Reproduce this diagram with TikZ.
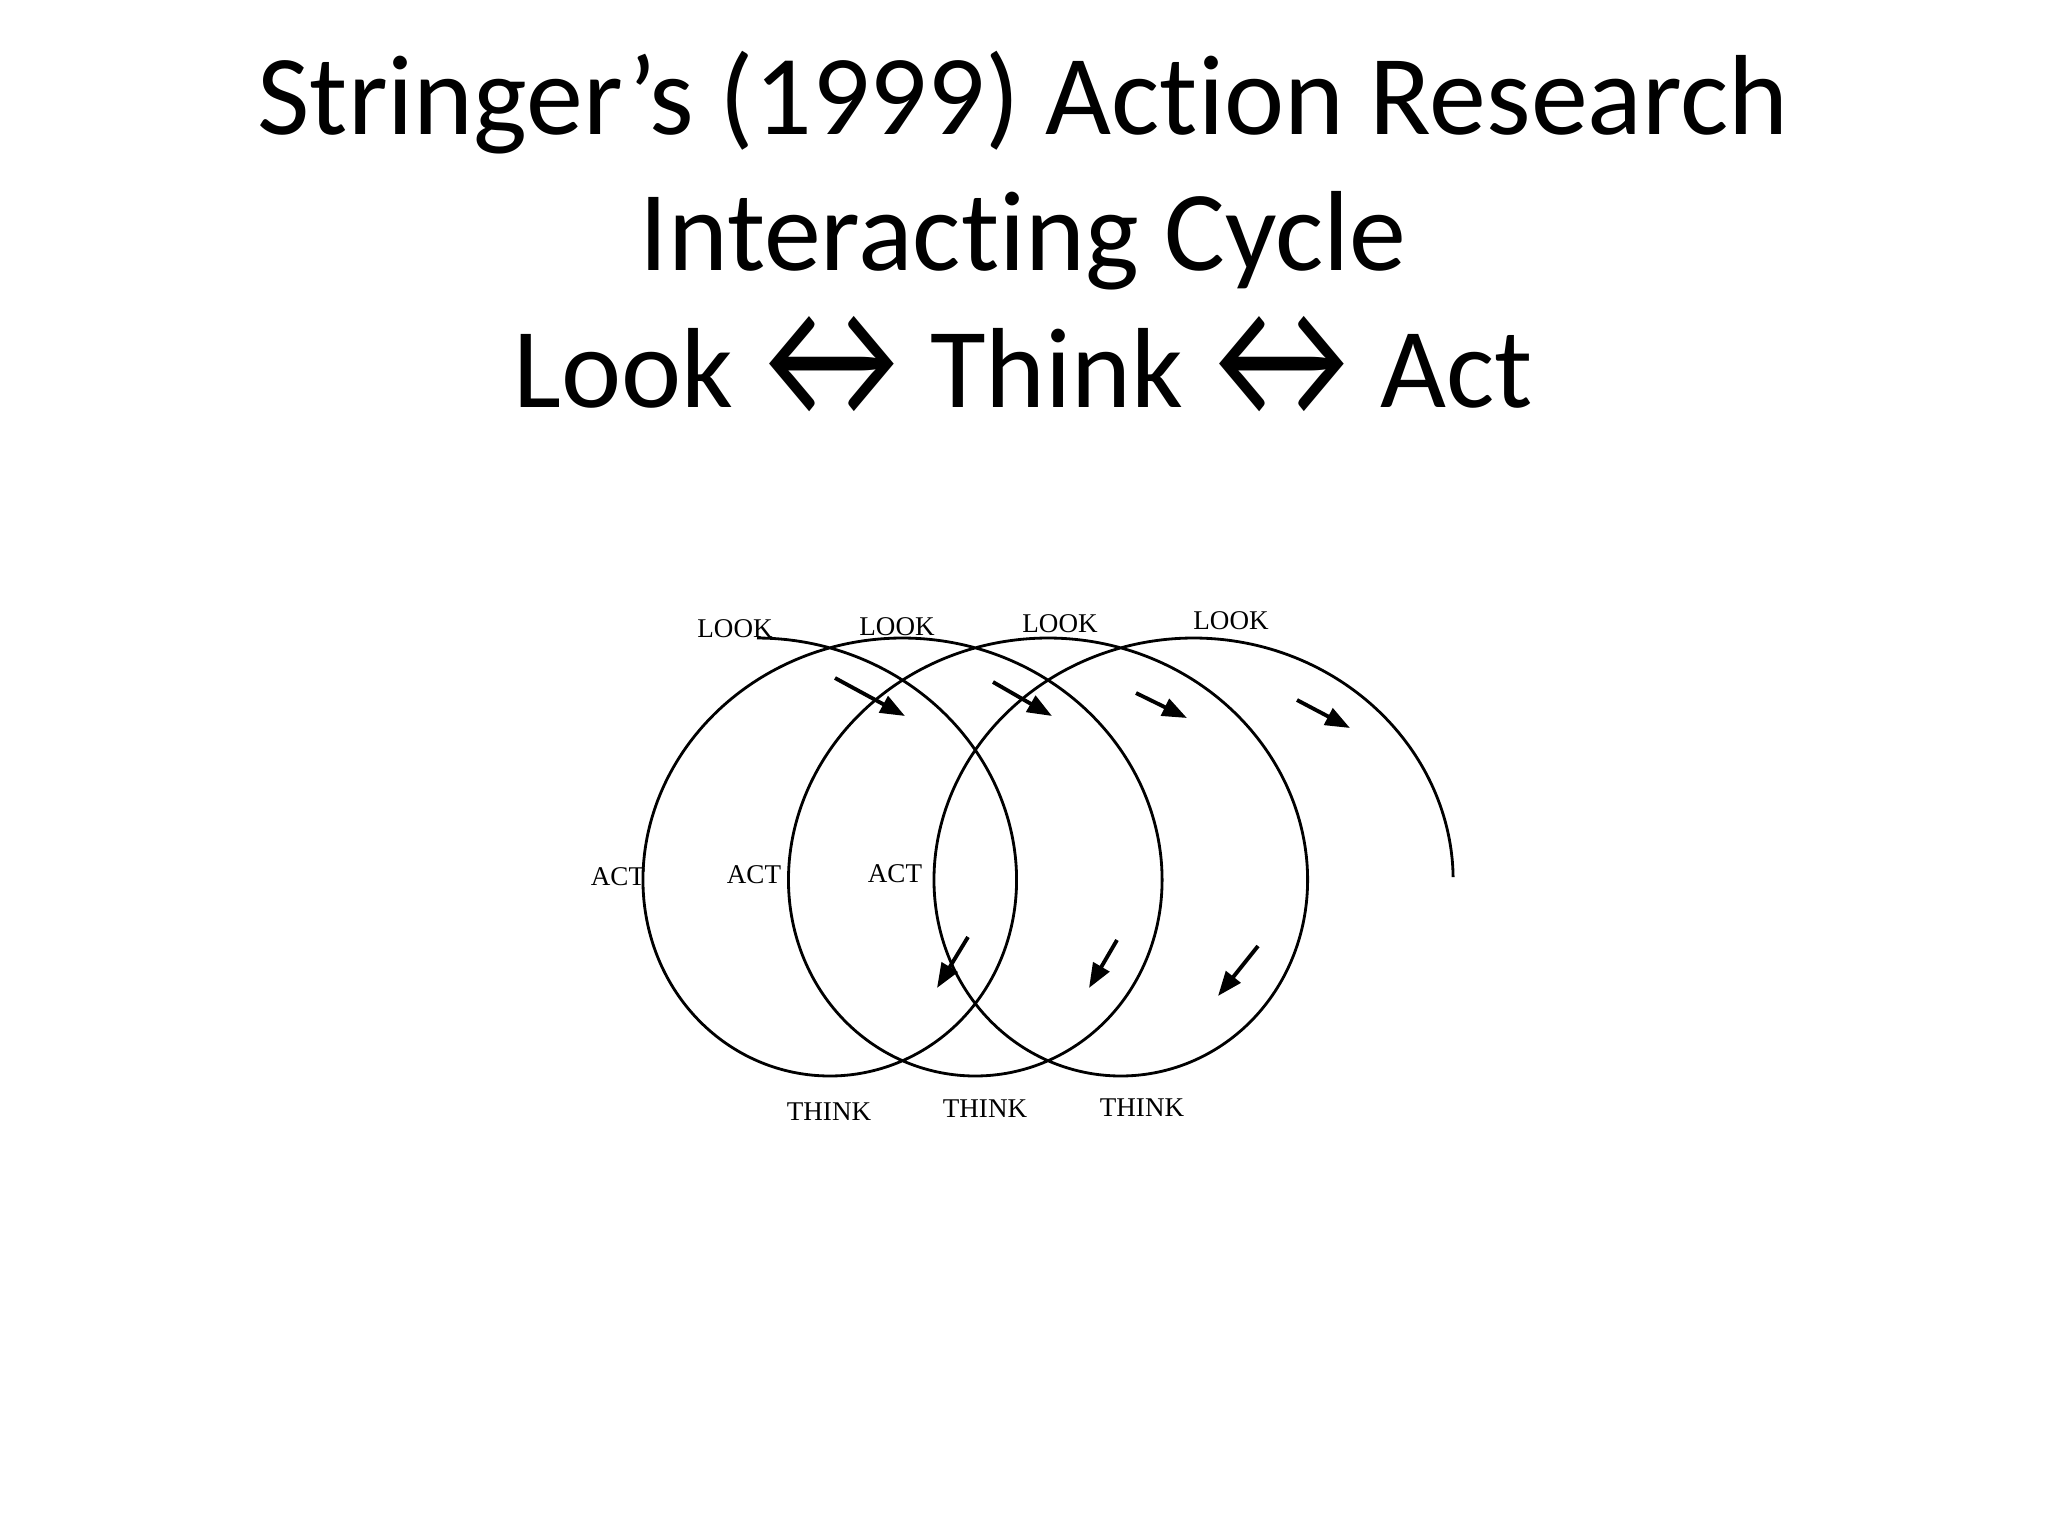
\documentclass[tikz,border=0pt]{standalone}
\usepackage{fontspec}
\setmainfont[Ligatures=NoCommon]{Carlito}
\newfontfamily\labelfont{Liberation Serif}
\usetikzlibrary{arrows.meta}
\tikzset{>/.tip={Triangle[length=7pt,width=5.2pt]}}
\newcommand{\twoway}{\kern0.9pt\raisebox{-2.7pt}{\scalebox{1.3}[1.55]{↔}}\kern0.9pt}

\begin{document}
\begin{tikzpicture}[x=0.01cm,y=-0.01cm,
  title/.style={font=\fontsize{32.4}{38.8}\selectfont, inner sep=0pt, anchor=base},
  lbl/.style={font=\labelfont\fontsize{7.7}{9}\selectfont, inner sep=0pt, anchor=base},
  coil/.style={line width=0.8pt},
  dir/.style={->, line width=1.1pt}]
  \fill[white] (0,0) rectangle (2048,1536);
  \useasboundingbox (0,0) rectangle (2048,1536);

  % heading
  \node[title] (head1) at (1023,134.5) {Stringer’s (1999) Action Research};
  \node[title] (head2) at (1023,270) {Interacting Cycle};
  \node[title] (head3) at (1023,407.5) {Look\twoway Think\twoway Act};

  % the spiral
  \draw[coil] plot[domain=0:20.52, samples=500, smooth, variable=\t]
    ({757+23.16*\t+222*sin(\t r)}, {857-219*cos(\t r)});

  % labels
  \node[lbl] (look1) at (735,637) {LOOK};
  \node[lbl] (look2) at (897,635) {LOOK};
  \node[lbl] (look3) at (1060,632) {LOOK};
  \node[lbl] (look4) at (1231,629) {LOOK};
  \node[lbl] (act1) at (618,885) {ACT};
  \node[lbl] (act2) at (754,883) {ACT};
  \node[lbl] (act3) at (895,882) {ACT};
  \node[lbl] (think1) at (829,1120) {THINK};
  \node[lbl] (think2) at (985,1117) {THINK};
  \node[lbl] (think3) at (1142,1116) {THINK};

  % direction marks
  \foreach \a/\b in {{835,678}/{905,716}, {993,682}/{1052,716},
      {1136,693}/{1187,718}, {1297,700}/{1350,728},
      {968,937}/{937,988}, {1117,940}/{1089,988}, {1258,946}/{1218,996}}
    \draw[dir] (\a) -- (\b);
\end{tikzpicture}
\end{document}
